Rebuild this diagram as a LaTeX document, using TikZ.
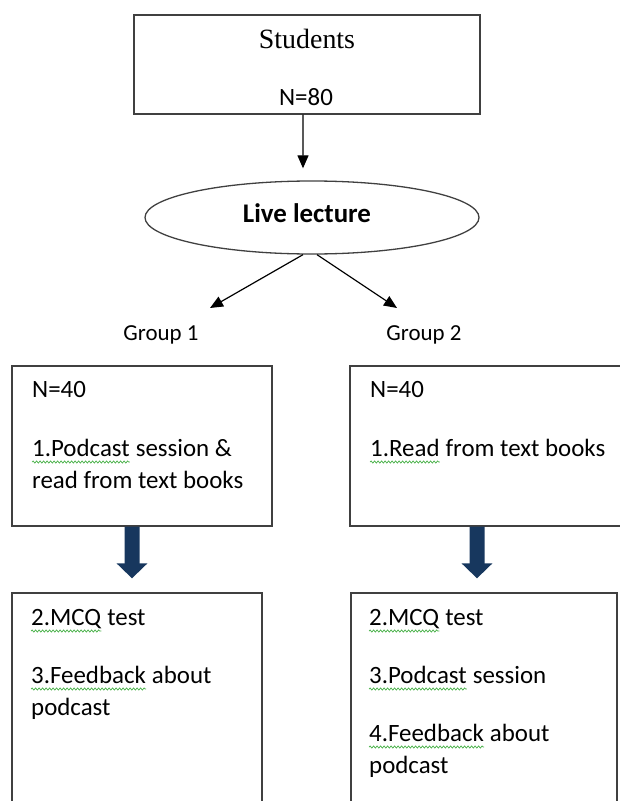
\documentclass[tikz,border=0pt]{standalone}
\usepackage{fontspec}
\setmainfont{Carlito}
\newfontfamily\serifhead{Liberation Serif}
\usetikzlibrary{arrows.meta,shapes.geometric,decorations.pathmorphing}
\definecolor{navyarrow}{RGB}{23,55,94}
\definecolor{squiggreen}{RGB}{70,175,70}

\begin{document}
\begin{tikzpicture}[x=1bp,y=-1bp,
    frame/.style={draw=black!75,line width=1.3bp,inner sep=0pt},
    txt/.style={inner sep=0pt,anchor=base west,font=\fontsize{25}{30}\selectfont},
    ctxt/.style={inner sep=0pt,anchor=base,font=\fontsize{23}{28}\selectfont},
    squiggle/.style={draw=squiggreen,line width=0.7bp,decorate,decoration={snake,amplitude=1.1bp,segment length=3.5bp}},
    thinarrow/.style={line width=1.2bp,-{Triangle[width=11bp,length=13bp]}},
    fatarrow/.style={draw=navyarrow,line width=15bp,-{Triangle[width=30bp,length=15bp]}}]
    \useasboundingbox (0,0) rectangle (620,801);
    \clip (0,0) rectangle (620,801);
    \node[frame,minimum width=346bp,minimum height=99bp] (students) at (307,64.5) {};
    \node[frame,ellipse,minimum width=334bp,minimum height=73bp] (lecture) at (312,217.5) {};
    \node[frame,minimum width=260bp,minimum height=160bp] (box1) at (142,446) {};
    \node[frame,minimum width=280bp,minimum height=160bp] (box2) at (490,446) {};
    \node[frame,minimum width=250bp,minimum height=230bp] (box3) at (137,708) {};
    \node[frame,minimum width=266bp,minimum height=230bp] (box4) at (484,708) {};
    \node[inner sep=0pt,anchor=base,font=\serifhead\fontsize{28}{32}\selectfont] (sa) at (307,49) {Students};
    \node[ctxt,font=\fontsize{25}{30}\selectfont] (sb) at (306,105) {N=80};
    \node[inner sep=0pt,anchor=base,font=\fontsize{27}{32}\selectfont\bfseries] (la) at (307,222) {Live lecture};
    \node[ctxt] (ga) at (161,340) {Group 1};
    \node[ctxt] (gb) at (424,340) {Group 2};
    \coordinate (g1tip) at (210,308);
    \coordinate (g2tip) at (397,308);
    \node[txt] (aa) at (32,397) {N=40};
    \node[txt] (ab) at (32,456) {1.Podcast};
    \node[txt] (ab2) at (ab.base east) {\ session \&};
    \node[txt] (ac) at (32,488) {read from text books};
    \node[txt] (ba) at (370,397) {N=40};
    \node[txt] (bb) at (370,456) {1.Read};
    \node[txt] (bb2) at (bb.base east) {\ from text books};
    \node[txt] (ca) at (31,625) {2.MCQ};
    \node[txt] (ca2) at (ca.base east) {\ test};
    \node[txt] (cb) at (31,683) {3.Feedback};
    \node[txt] (cb2) at (cb.base east) {\ about};
    \node[txt] (cc) at (31,715) {podcast};
    \node[txt] (da) at (369,625) {2.MCQ};
    \node[txt] (da2) at (da.base east) {\ test};
    \node[txt] (db) at (369,683) {3.Podcast};
    \node[txt] (db2) at (db.base east) {\ session};
    \node[txt] (dc) at (369,741) {4.Feedback};
    \node[txt] (dc2) at (dc.base east) {\ about};
    \node[txt] (dd) at (369,773) {podcast};
    \foreach \w in {ab,bb,ca,cb,da,db,dc}
      \draw[squiggle] ([yshift=-6bp]\w.base west) -- ([yshift=-6bp]\w.base east);
    \draw[thinarrow,shorten >=12bp] ([xshift=-4bp]students.south) -- ([xshift=-9bp]lecture.north);
    \draw[thinarrow] ([xshift=-9bp]lecture.south) -- (g1tip);
    \draw[thinarrow] ([xshift=5bp]lecture.south) -- (g2tip);
    \draw[fatarrow,shorten >=14bp] ([xshift=-10bp]box1.south) -- ([xshift=-5bp]box3.north);
    \draw[fatarrow,shorten >=14bp] ([xshift=-13bp]box2.south) -- ([xshift=-7bp]box4.north);
\end{tikzpicture}
\end{document}
